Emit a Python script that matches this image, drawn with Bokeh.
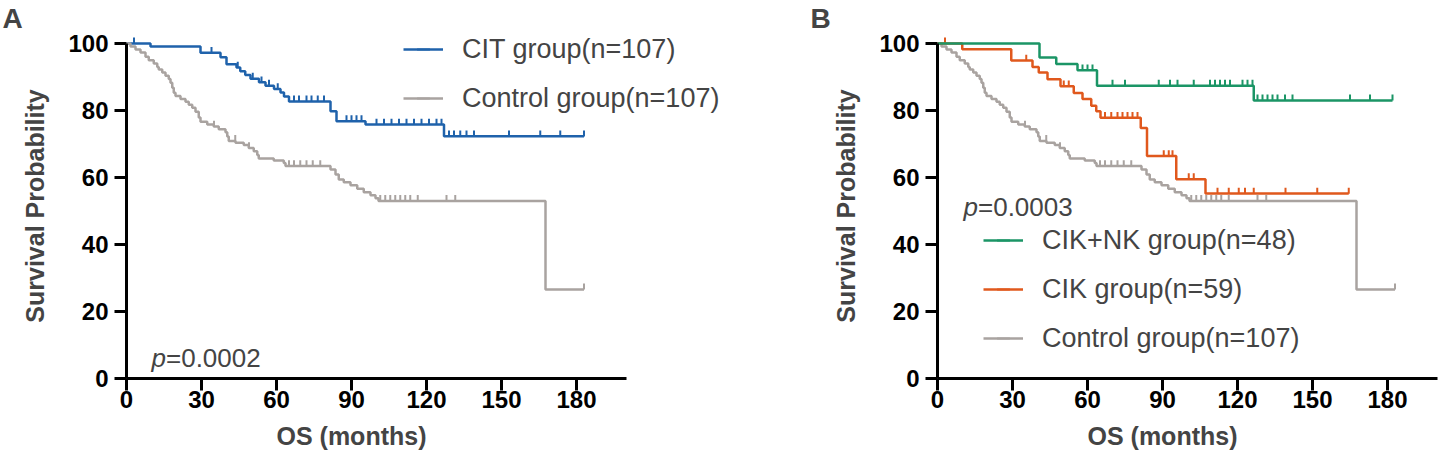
import numpy as np
from bokeh.plotting import figure
from bokeh.models import Range1d, FixedTicker, Label, Legend, LegendItem, Title
from bokeh.layouts import row
from bokeh.embed import file_html
from bokeh.resources import INLINE

# ---------------- data ----------------
x_ticks = [0, 30, 60, 90, 120, 150, 180]
y_ticks = [0, 20, 40, 60, 80, 100]

# Control group (n=107): event times (months) and survival (%) after each step
ctrl_t = [1.6, 3.6, 5.6, 7.6, 8.9, 10.9, 12.3, 12.9, 14.3, 15.6, 16.9, 17.6, 18.3, 18.9,
          19.6, 21.6, 23.6, 24.9, 26.3, 27.6, 28.9, 29.6, 32.3, 34.9, 36.9, 39.6, 40.3,
          40.9, 43.6, 46.9, 48.9, 50.9, 52.3, 52.9, 58.9, 62.9, 63.6, 81.6, 83.6, 84.9,
          86.9, 89.6, 92.3, 94.9, 97.6, 99.6, 100.8, 167.6]
ctrl_s = [99.1, 98.2, 97.3, 96.0, 95.0, 94.0, 93.0, 92.2, 91.3, 90.4, 89.4, 88.3, 86.8, 85.3,
          84.3, 83.4, 82.6, 81.7, 80.8, 79.6, 77.9, 76.6, 75.8, 75.2, 74.4, 73.5, 72.2,
          70.9, 70.4, 69.7, 68.8, 67.8, 66.7, 65.7, 65.1, 64.3, 63.4, 62.4, 60.9, 59.4,
          58.6, 57.7, 56.6, 55.6, 54.7, 53.8, 53.0, 26.6]
ctrl_c = [35.0, 43.5, 49.0, 65.0, 67.0, 69.5, 72.0, 74.5, 77.5, 101.5, 103.5, 105.5, 107.5,
          109.5, 111.5, 113.5, 116.5, 128.0, 131.5, 183.0]

# CIT group (n=107)
cit_t = [9.6, 29.6, 37.6, 40.0, 44.0, 45.5, 47.5, 49.6, 53.0, 55.6, 59.0, 61.6, 63.0, 65.0,
         81.6, 84.0, 95.6, 127.0]
cit_s = [99.1, 97.2, 95.9, 93.8, 92.8, 91.7, 90.6, 89.5, 88.4, 87.4, 86.4, 85.4, 84.2, 82.7,
         79.8, 76.8, 75.8, 72.3]
cit_c = [3.0, 34.0, 44.5, 50.5, 54.0, 57.0, 60.5, 67.0, 69.0, 72.0, 74.0, 76.5, 79.0, 88.0,
         90.0, 92.0, 94.0, 100.0, 103.0, 106.0, 109.0, 112.0, 115.0, 118.0, 121.0, 124.0,
         126.0, 129.0, 131.0, 133.5, 136.0, 139.0, 153.0, 165.5, 173.5, 183.0]

# CIK+NK group (n=48)
nk_t = [40.8, 47.5, 56.0, 63.8, 126.5]
nk_s = [95.8, 93.9, 92.0, 87.4, 83.0]
nk_c = [58.0, 60.0, 62.0, 70.0, 75.0, 88.5, 93.0, 96.0, 102.5, 109.0, 111.0, 113.0, 115.0,
        117.0, 122.0, 124.0, 126.0, 128.0, 130.0, 132.0, 134.0, 136.0, 139.0, 142.0,
        165.0, 173.0, 182.0]

# CIK group (n=59)
cik_t = [9.9, 29.5, 38.0, 40.5, 44.0, 49.2, 54.5, 58.0, 61.5, 63.5, 65.2, 81.3, 83.8,
         95.5, 107.2]
cik_s = [98.3, 94.9, 93.0, 91.3, 89.3, 87.2, 85.2, 83.4, 81.4, 79.8, 77.8, 74.8, 66.4,
         59.5, 55.2]
cik_c = [3.0, 35.5, 50.5, 52.5, 67.0, 69.5, 72.0, 74.0, 76.0, 78.0, 80.0, 90.5, 92.5,
         94.0, 100.5, 102.5, 112.0, 116.5, 120.5, 123.0, 126.5, 139.2, 151.9, 164.5]

labels_A = ["CIT group(n=107)", "Control group(n=107)"]
labels_B = ["CIK+NK group(n=48)", "CIK group(n=59)", "Control group(n=107)"]
p_A = "=0.0002"
p_B = "=0.0003"
x_title = "OS (months)"
y_title = "Survival Probability"

# ---------------- style ----------------
BLUE = "#1f62ab"
GRAY = "#a9a3a0"
GREEN = "#1b9566"
ORANGE = "#e0581d"
FONT = "Liberation Sans"
LW = 2.5
TICK = 1.7  # censor tick height (% units)

PX_PER_MONTH = 2.5
PX_PER_PCT = 3.36
FIG_H = 463
TOP = 32
FRAME_H = 346
Y_END = FRAME_H / PX_PER_PCT


def km_curve(p, t, s, c, color):
    end = max(c[-1], t[-1])
    xs = [0.0] + list(t) + [end]
    ys = [100.0] + list(s) + [s[-1]]
    r = p.step(xs, ys, mode="after", line_color=color, line_width=LW)
    ta = np.array(t)
    sa = np.array(s)
    ca = np.array(c)
    idx = np.searchsorted(ta, ca, side="right")
    cy = np.where(idx == 0, 100.0, sa[np.maximum(idx - 1, 0)])
    m = p.scatter(ca, cy + TICK / 2, marker="dash", angle=np.pi / 2, size=6,
                  line_color=color, line_width=2)
    return r, m


def make_fig(width, left, letter, letter_offset):
    x_end = (width - left) / PX_PER_MONTH
    p = figure(width=width, height=FIG_H, x_range=Range1d(0, x_end),
               y_range=Range1d(0, Y_END), output_backend="svg",
               toolbar_location=None, min_border_left=left, min_border_right=0,
               min_border_top=TOP, min_border_bottom=FIG_H - TOP - FRAME_H)
    p.outline_line_color = None
    p.grid.visible = False
    for ax in (p.xaxis[0], p.yaxis[0]):
        ax.axis_line_width = 3
        ax.major_tick_line_width = 3
        ax.major_tick_out = 12
        ax.major_tick_in = 0
        ax.minor_tick_line_color = None
        ax.major_label_text_font = FONT
        ax.major_label_text_font_style = "bold"
        ax.major_label_text_font_size = "24px"
        ax.major_label_text_color = "black"
    p.xaxis.ticker = FixedTicker(ticks=x_ticks)
    p.yaxis.ticker = FixedTicker(ticks=y_ticks)
    p.xaxis.bounds = (0, 200)
    p.yaxis.bounds = (0, 100)
    p.xaxis.major_label_standoff = 0
    p.yaxis.major_label_standoff = 6
    p.yaxis.axis_label = y_title
    p.yaxis.axis_label_text_font = FONT
    p.yaxis.axis_label_text_font_style = "bold"
    p.yaxis.axis_label_text_font_size = "25px"
    p.yaxis.axis_label_standoff = 16
    # panel letter
    p.title.text = letter
    p.title.align = "left"
    p.title.offset = letter_offset
    p.title.standoff = 0
    p.title.text_font = FONT
    p.title.text_font_style = "bold"
    p.title.text_font_size = "28px"
    # x axis title, centred under the 0-180 tick span
    xt = Title(text=x_title, align="left", offset=90 * PX_PER_MONTH - 75, standoff=19,
               text_font=FONT, text_font_style="bold", text_font_size="25px")
    p.add_layout(xt, "below")
    return p


def p_label(p, x, y, txt):
    p.add_layout(Label(x=x, y=y, x_units="screen", y_units="screen", text="p",
                       text_font=FONT, text_font_style="italic", text_font_size="26px",
                       text_baseline="alphabetic"))
    p.add_layout(Label(x=x + 14.5, y=y, x_units="screen", y_units="screen", text=txt,
                       text_font=FONT, text_font_size="26px", text_baseline="alphabetic"))


def legend(p, items, loc):
    lg = Legend(items=items, location=loc, padding=0, margin=0, spacing=17,
                glyph_width=40, glyph_height=32, label_height=32, label_standoff=19,
                label_text_font=FONT, label_text_font_size="27px",
                background_fill_alpha=0, border_line_alpha=0)
    p.add_layout(lg)


# ---------------- panel A ----------------
pA = make_fig(805, 126, "A", -124)
rA1 = km_curve(pA, cit_t, cit_s, cit_c, BLUE)
rA2 = km_curve(pA, ctrl_t, ctrl_s, ctrl_c, GRAY)
legend(pA, [LegendItem(label=labels_A[0], renderers=list(rA1)),
            LegendItem(label=labels_A[1], renderers=list(rA2))], (277, 264))
p_label(pA, 25, 21, p_A)

# ---------------- panel B ----------------
pB = make_fig(635, 132, "B", -127)
rB3 = km_curve(pB, ctrl_t, ctrl_s, ctrl_c, GRAY)
rB2 = km_curve(pB, cik_t, cik_s, cik_c, ORANGE)
rB1 = km_curve(pB, nk_t, nk_s, nk_c, GREEN)
legend(pB, [LegendItem(label=labels_B[0], renderers=list(rB1)),
            LegendItem(label=labels_B[1], renderers=list(rB2)),
            LegendItem(label=labels_B[2], renderers=list(rB3))], (46, 24))
p_label(pB, 26, 172, p_B)

layout = row(pA, pB)
open("out.html", "w").write(file_html(layout, INLINE))
